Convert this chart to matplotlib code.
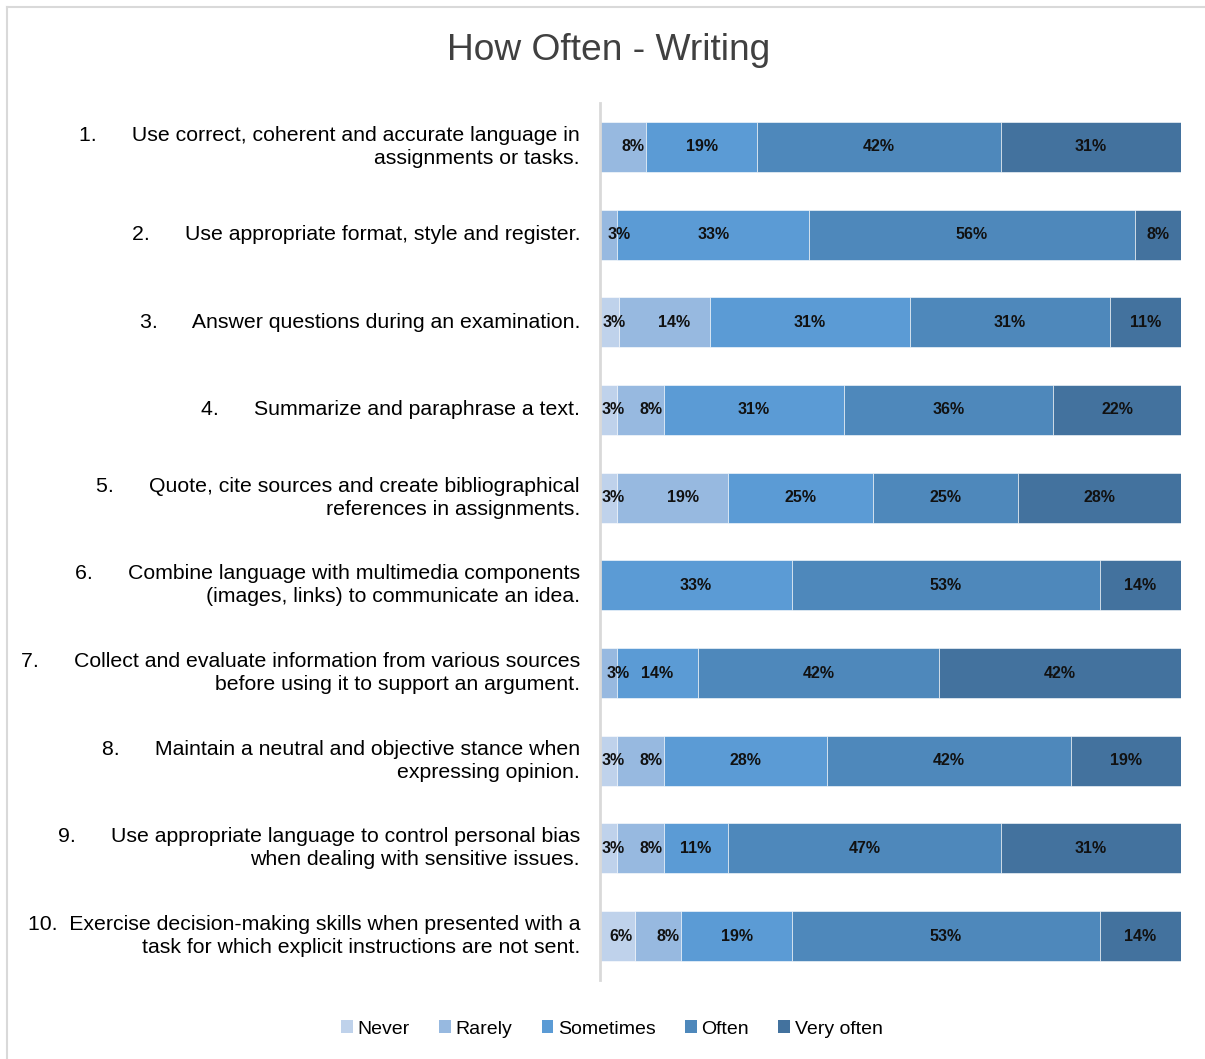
import numpy as np
import matplotlib.pyplot as plt
from matplotlib.lines import Line2D
from matplotlib.patches import Patch

items = [
    "1.      Use correct, coherent and accurate language in\nassignments or tasks.",
    "2.      Use appropriate format, style and register.",
    "3.      Answer questions during an examination.",
    "4.      Summarize and paraphrase a text.",
    "5.      Quote, cite sources and create bibliographical\nreferences in assignments.",
    "6.      Combine language with multimedia components\n(images, links) to communicate an idea.",
    "7.      Collect and evaluate information from various sources\nbefore using it to support an argument.",
    "8.      Maintain a neutral and objective stance when\nexpressing opinion.",
    "9.      Use appropriate language to control personal bias\nwhen dealing with sensitive issues.",
    "10.  Exercise decision-making skills when presented with a\ntask for which explicit instructions are not sent.",
]
levels = ["Never", "Rarely", "Sometimes", "Often", "Very often"]

never = [0, 0, 3, 3, 3, 0, 0, 3, 3, 6]
rarely = [8, 3, 14, 8, 19, 0, 3, 8, 8, 8]
sometimes = [19, 33, 31, 31, 25, 33, 14, 28, 11, 19]
often = [42, 56, 31, 36, 25, 53, 42, 42, 47, 53]
very_often = [31, 8, 11, 22, 28, 14, 42, 19, 31, 14]

colors = ["#bfd2eb", "#97b9e0", "#5b9bd5", "#4e88bb", "#43729e"]
label_dx = [4, 10, 0, 0, 0]  # pixel nudges of the data labels

series = np.array([never, rarely, sometimes, often, very_often], dtype=float)
totals = series.sum(axis=0)
shares = series / totals * 100

fig = plt.figure(figsize=(12.05, 10.59), dpi=100)
ax = fig.add_axes([600 / 1205, 1 - 980 / 1059, 581 / 1205, 877 / 1059])

y = np.arange(len(items))
left = np.zeros(len(items))
for k, name in enumerate(levels):
    ax.barh(y, shares[k], left=left, height=0.57, color=colors[k],
            edgecolor="white", linewidth=0.4, label=name)
    for i in range(len(items)):
        v = series[k, i]
        if v > 0:
            ax.annotate(f"{int(v)}%", (left[i] + shares[k, i] / 2, y[i]),
                        xytext=(label_dx[k], 0), textcoords="offset pixels",
                        ha="center", va="center", fontsize=11.5,
                        fontweight="bold", family="Liberation Sans",
                        color="#111111")
    left += shares[k]

ax.set_xlim(0, 100)
ax.set_ylim(len(items) - 0.5, -0.5)
ax.set_xticks([])
ax.set_yticks([])
for s in ["top", "right", "bottom"]:
    ax.spines[s].set_visible(False)
ax.spines["left"].set_color("#d9d9d9")
ax.spines["left"].set_linewidth(2)

for i, txt in enumerate(items):
    ax.annotate(txt, (0, y[i]), xytext=(-20, 0), textcoords="offset pixels",
                ha="right", va="center", multialignment="right",
                fontsize=15.3, family="Liberation Sans", linespacing=1.27,
                color="black")

fig.text(609 / 1205, 1 - 50 / 1059, "How Often - Writing", ha="center", va="center",
         fontsize=26.7, family="Liberation Sans", color="#404040")

handles = [Patch(facecolor=c, edgecolor="none") for c in colors]
fig.legend(handles, levels, loc="center", bbox_to_anchor=(612 / 1205, 1 - 1029 / 1059),
           ncol=5, frameon=False, handlelength=0.6, handleheight=0.6,
           handletextpad=0.25, columnspacing=1.5,
           prop={"family": "Liberation Sans", "size": 14})

# chart border (top and left edges visible)
fig.add_artist(Line2D([7 / 1205, 1], [1 - 7 / 1059, 1 - 7 / 1059], color="#d9d9d9", lw=1.5))
fig.add_artist(Line2D([7 / 1205, 7 / 1205], [0, 1 - 7 / 1059], color="#d9d9d9", lw=1.5))

fig.savefig("out.png", dpi=100)
